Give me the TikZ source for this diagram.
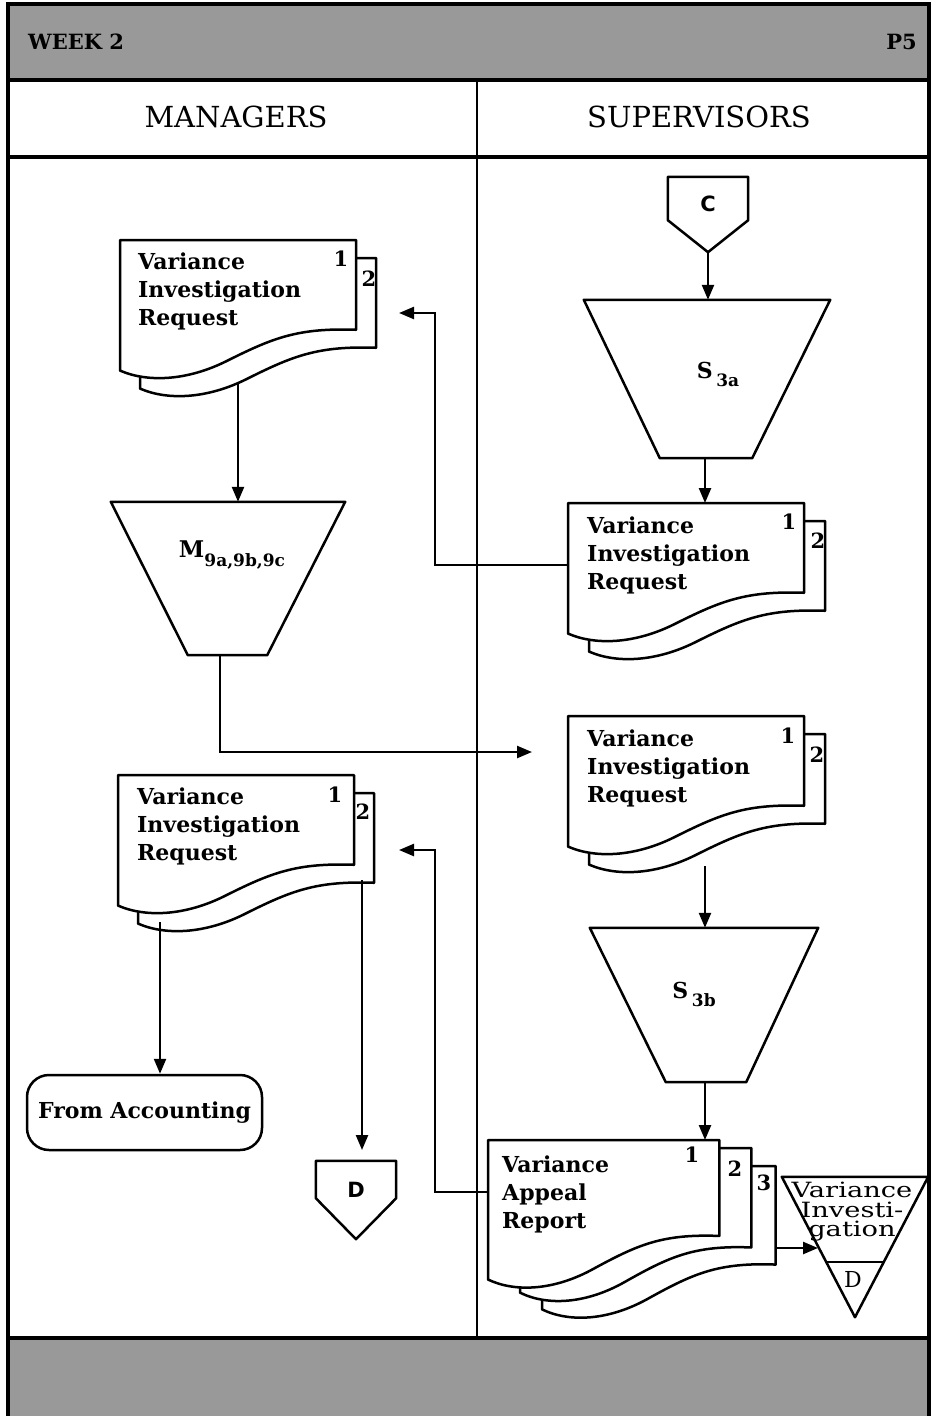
\documentclass[tikz,border=0pt]{standalone}
\usepackage{fontspec}
\setmainfont{DejaVu Serif}
\newfontfamily\trifont[FakeStretch=1.3]{DejaVu Serif}
\newfontfamily\connfont{DejaVu Sans}
\usetikzlibrary{arrows.meta,calc}
\tikzset{
  framethick/.style={line width=4pt},
  laneline/.style={line width=2.6pt},
  shp/.style={draw=black, fill=white, line width=2.5pt, line join=round},
  flow/.style={line width=2.4pt, -{Triangle[length=15pt,width=12pt]}},
  doctext/.style={font=\bfseries\fontsize{22}{28}\selectfont, align=left, anchor=north west, inner sep=0pt},
  pagenum/.style={font=\bfseries\fontsize{21}{21}\selectfont, inner sep=0pt},
  box/.style={draw=none, inner sep=0pt},
  hdr/.style={font=\fontsize{29}{29}\selectfont, inner sep=0pt},
  conntext/.style={font=\connfont\bfseries\fontsize{21}{21}\selectfont, inner sep=0pt},
  docpage/.pic={\path[shp] (0,0) -- (236,0) -- (236,88) .. controls (178,86) and (153,96) .. (108,118) .. controls (68,138) and (28,140) .. (0,128) -- cycle;},
}
\begin{document}
\begin{tikzpicture}[x=1pt,y=-1pt]
\useasboundingbox (0,0) rectangle (932,1416);
% bands
\fill[black!40] (8,4) rectangle (929,80);
\fill[black!40] (8,1339) rectangle (929,1416);
\draw[framethick] (8,1416) -- (8,4) -- (929,4) -- (929,1416);
\draw[framethick] (8,80) -- (929,80);
\draw[framethick] (8,157) -- (929,157);
\draw[framethick] (8,1338) -- (929,1338);
\draw[laneline] (477,80) -- (477,1338);
\node[font=\bfseries\fontsize{21}{21}\selectfont, anchor=west, inner sep=0pt] (week) at (28,42) {WEEK 2};
\node[font=\bfseries\fontsize{21}{21}\selectfont, anchor=east, inner sep=0pt] (page) at (917,42) {P5};
\node[hdr] (mgr) at (236,117) {MANAGERS};
\node[hdr] (sup) at (699,117) {SUPERVISORS};

% ---------- Supervisors lane ----------
\node[box, minimum width=80pt, minimum height=75pt] (cconn) at (708,214.5) {};
\path[shp] (cconn.north west) -- (cconn.north east) -- ([yshift=32pt]cconn.south east) -- (cconn.south) -- ([yshift=32pt]cconn.south west) -- cycle;
\node[conntext] (clbl) at (708,204) {C};

\node[box, minimum width=246pt, minimum height=158pt] (s3a) at (707,379) {};
\path[shp] (s3a.north west) -- (s3a.north east) -- ([xshift=-78pt]s3a.south east) -- ([xshift=76pt]s3a.south west) -- cycle;
\node[font=\bfseries\fontsize{22}{22}\selectfont, inner sep=0pt] (s3at) at (718,374) {S\,\raisebox{-8pt}{\fontsize{17}{17}\selectfont 3a}};
\draw[flow] (cconn.south) -- (cconn.south |- s3a.north);

% S1 doc
\pic[yscale=1.02] at (589,521) {docpage};
\pic[yscale=1.02] at (568,503) {docpage};
\node[doctext] (s1) at (587,517) {Variance\\Investigation\\Request};
\node[pagenum] (s1a) at (789,522) {1};
\node[pagenum] (s1b) at (818,541) {2};
\coordinate (s1top) at (705,503);
\draw[flow] ([xshift=-2pt]s3a.south) -- (s1top);

% S2 doc
\pic[yscale=1.02] at (589,734) {docpage};
\pic[yscale=1.02] at (568,716) {docpage};
\node[doctext] (s2) at (587,730) {Variance\\Investigation\\Request};
\node[pagenum] (s2a) at (788,736) {1};
\node[pagenum] (s2b) at (817,755) {2};
\coordinate (s2out) at (705,866);

\node[box, minimum width=228pt, minimum height=154pt] (s3b) at (704,1005) {};
\path[shp] (s3b.north west) -- (s3b.north east) -- ([xshift=-72pt]s3b.south east) -- ([xshift=76pt]s3b.south west) -- cycle;
\node[font=\bfseries\fontsize{22}{22}\selectfont, inner sep=0pt] (s3bt) at (694,994) {S\,\raisebox{-8pt}{\fontsize{17}{17}\selectfont 3b}};
\draw[flow] (s2out) -- (s2out |- s3b.north);

% S4 doc (3 copies)
\pic[xscale=0.99,yscale=1.12] at (542,1166) {docpage};
\pic[xscale=0.98,yscale=1.13] at (520,1148) {docpage};
\pic[xscale=0.98,yscale=1.09] at (488,1140) {docpage};
\node[doctext] (s4) at (502,1156) {Variance\\Appeal\\Report};
\node[pagenum] (s4a) at (692,1155) {1};
\node[pagenum] (s4b) at (735,1169) {2};
\node[pagenum] (s4c) at (764,1183) {3};
\coordinate (s4top) at (705,1140);
\draw[flow] ([xshift=1pt]s3b.south) -- (s4top);

% triangle file
\node[box, minimum width=146pt, minimum height=140pt] (tri) at (855,1247) {};
\path[shp] (tri.north west) -- (tri.north east) -- (tri.south) -- cycle;
\draw[line width=2.5pt] ($(tri.north west)!0.607!(tri.south)$) -- ($(tri.north east)!0.607!(tri.south)$);
\node[font=\trifont\fontsize{21}{19.5}\selectfont, align=center, inner sep=0pt] (tritext) at (852,1212) {Variance\\Investi-\\gation};
\node[font=\fontsize{22}{22}\selectfont, inner sep=0pt] (trid) at (853,1279) {D};
\coordinate (s4r) at (775,1248);
\coordinate (triin) at (818,1248);
\draw[flow] (s4r) -- (triin);

% ---------- Managers lane ----------
\pic[yscale=1.02] at (140,258) {docpage};
\pic[yscale=1.02] at (120,240) {docpage};
\node[doctext] (m1) at (138,253) {Variance\\Investigation\\Request};
\node[pagenum] (m1a) at (341,259) {1};
\node[pagenum] (m1b) at (369,279) {2};
\coordinate (m1out) at (238,384);

\node[box, minimum width=234pt, minimum height=153pt] (m9) at (228,578.5) {};
\path[shp] (m9.north west) -- (m9.north east) -- ([xshift=-78pt]m9.south east) -- ([xshift=77pt]m9.south west) -- cycle;
\node[font=\bfseries\fontsize{23}{23}\selectfont, inner sep=0pt] (m9t) at (232,555) {M\raisebox{-9pt}{\fontsize{17}{17}\selectfont 9a,9b,9c}};
\draw[flow] (m1out) -- (m1out |- m9.north);

% M2 doc
\pic[yscale=1.02] at (138,793) {docpage};
\pic[yscale=1.02] at (118,775) {docpage};
\node[doctext] (m2) at (137,788) {Variance\\Investigation\\Request};
\node[pagenum] (m2a) at (335,795) {1};
\node[pagenum] (m2b) at (363,812) {2};

\node[draw, line width=2.5pt, rounded corners=22pt, minimum width=235pt, minimum height=75pt, font=\bfseries\fontsize{22}{22}\selectfont] (acc) at (144.5,1112.5) {From Accounting};

\node[box, minimum width=80pt, minimum height=78pt] (dconn) at (356,1200) {};
\path[shp] (dconn.north west) -- (dconn.north east) -- ([yshift=41pt]dconn.south east) -- (dconn.south) -- ([yshift=41pt]dconn.south west) -- cycle;
\node[conntext] (dlbl) at (356,1190) {D};

\coordinate (m2o1) at (160,922);
\draw[flow] (m2o1) -- (m2o1 |- acc.north);
\coordinate (m2o2) at (362,880);
\coordinate (din) at (362,1150);
\draw[flow] (m2o2) -- (din);

% cross-lane connectors
\coordinate (m9out) at (220,655);
\coordinate (s2in) at (532,752);
\draw[flow] (m9out) |- (s2in);

\coordinate (s1l) at (568,565);
\coordinate (m1in) at (399,313);
\draw[flow] (s1l) -- (435,565) |- (m1in);

\coordinate (s4l) at (488,1192);
\coordinate (m2in) at (399,850);
\draw[flow] (s4l) -- (435,1192) |- (m2in);
\end{tikzpicture}
\end{document}
